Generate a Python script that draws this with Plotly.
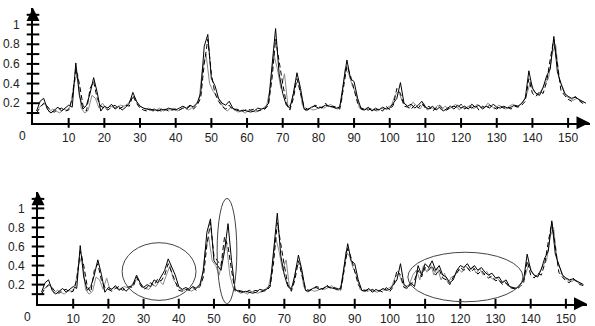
import plotly.graph_objects as go

# ---------------- data ----------------
x_int = list(range(1, 156))                 # 1 .. 155
x_half = [i + 0.5 for i in range(1, 155)]   # 1.5 .. 154.5

top_a = [0.12, 0.22, 0.25, 0.14, 0.10, 0.13, 0.16, 0.12, 0.15, 0.18,
         0.16, 0.61, 0.28, 0.14, 0.18, 0.30, 0.46, 0.31, 0.12, 0.17,
         0.15, 0.19, 0.14, 0.17, 0.13, 0.16, 0.20, 0.31, 0.22, 0.17,
         0.15, 0.14, 0.13, 0.14, 0.12, 0.14, 0.13, 0.15, 0.14, 0.13,
         0.15, 0.17, 0.15, 0.18, 0.16, 0.20, 0.30, 0.78, 0.90, 0.45,
         0.38, 0.25, 0.20, 0.18, 0.22, 0.15, 0.13, 0.12, 0.13, 0.12,
         0.11, 0.12, 0.15, 0.14, 0.15, 0.20, 0.60, 0.96, 0.50, 0.30,
         0.18, 0.15, 0.30, 0.51, 0.35, 0.14, 0.13, 0.16, 0.17, 0.15,
         0.16, 0.18, 0.17, 0.16, 0.15, 0.16, 0.40, 0.64, 0.45, 0.42,
         0.25, 0.14, 0.13, 0.16, 0.12, 0.15, 0.13, 0.16, 0.14, 0.15,
         0.20, 0.25, 0.41, 0.20, 0.17, 0.19, 0.15, 0.18, 0.22, 0.16,
         0.14, 0.17, 0.13, 0.16, 0.12, 0.15, 0.17, 0.14, 0.18, 0.15,
         0.17, 0.14, 0.19, 0.16, 0.18, 0.14, 0.17, 0.15, 0.19, 0.16,
         0.15, 0.17, 0.15, 0.16, 0.18, 0.17, 0.20, 0.25, 0.53, 0.35,
         0.30, 0.28, 0.36, 0.48, 0.55, 0.88, 0.52, 0.40, 0.30, 0.27,
         0.25, 0.26, 0.24, 0.22, 0.20]

top_b = [0.15, 0.18, 0.20, 0.11, 0.14, 0.12, 0.10, 0.14, 0.13, 0.17,
         0.40, 0.50, 0.15, 0.10, 0.13, 0.28, 0.25, 0.15, 0.20, 0.14,
         0.17, 0.16, 0.15, 0.18, 0.17, 0.19, 0.24, 0.26, 0.18, 0.16,
         0.14, 0.15, 0.12, 0.13, 0.15, 0.12, 0.14, 0.13, 0.15, 0.12,
         0.14, 0.16, 0.13, 0.15, 0.19, 0.22, 0.55, 0.70, 0.40, 0.32,
         0.28, 0.22, 0.15, 0.12, 0.16, 0.13, 0.11, 0.12, 0.10, 0.13,
         0.12, 0.11, 0.13, 0.15, 0.18, 0.35, 0.70, 0.55, 0.35, 0.50,
         0.16, 0.20, 0.40, 0.42, 0.18, 0.12, 0.15, 0.13, 0.14, 0.16,
         0.15, 0.17, 0.19, 0.15, 0.14, 0.22, 0.55, 0.50, 0.38, 0.30,
         0.15, 0.13, 0.15, 0.14, 0.13, 0.12, 0.15, 0.14, 0.16, 0.18,
         0.28, 0.32, 0.22, 0.18, 0.15, 0.21, 0.17, 0.14, 0.20, 0.13,
         0.16, 0.14, 0.18, 0.13, 0.17, 0.14, 0.16, 0.19, 0.13, 0.17,
         0.15, 0.18, 0.14, 0.19, 0.16, 0.15, 0.20, 0.17, 0.14, 0.18,
         0.16, 0.14, 0.17, 0.19, 0.16, 0.18, 0.22, 0.30, 0.42, 0.32,
         0.28, 0.33, 0.40, 0.45, 0.70, 0.80, 0.45, 0.35, 0.27, 0.25,
         0.23, 0.25, 0.22, 0.21]

top_c = [0.10, 0.16, 0.20, 0.17, 0.12, 0.11, 0.14, 0.15, 0.12, 0.13,
         0.25, 0.55, 0.40, 0.18, 0.12, 0.35, 0.42, 0.25, 0.17, 0.15,
         0.13, 0.16, 0.18, 0.14, 0.16, 0.18, 0.17, 0.28, 0.20, 0.15,
         0.13, 0.12, 0.14, 0.12, 0.13, 0.12, 0.14, 0.12, 0.13, 0.14,
         0.13, 0.15, 0.14, 0.17, 0.14, 0.18, 0.25, 0.60, 0.85, 0.50,
         0.30, 0.22, 0.17, 0.14, 0.18, 0.13, 0.14, 0.13, 0.12, 0.14,
         0.13, 0.14, 0.12, 0.13, 0.14, 0.18, 0.45, 0.85, 0.60, 0.40,
         0.20, 0.13, 0.25, 0.45, 0.30, 0.16, 0.14, 0.15, 0.18, 0.17,
         0.15, 0.20, 0.16, 0.17, 0.16, 0.14, 0.35, 0.58, 0.48, 0.35,
         0.20, 0.15, 0.14, 0.13, 0.15, 0.13, 0.14, 0.12, 0.17, 0.13,
         0.18, 0.35, 0.30, 0.17, 0.16, 0.14, 0.18, 0.15, 0.20, 0.15,
         0.17, 0.12, 0.15, 0.18, 0.14, 0.13, 0.16, 0.17, 0.15, 0.19,
         0.14, 0.17, 0.15, 0.18, 0.13, 0.17, 0.15, 0.18, 0.16, 0.14,
         0.17, 0.15, 0.16, 0.14, 0.17, 0.16, 0.18, 0.22, 0.45, 0.30,
         0.27, 0.32, 0.30, 0.42, 0.65, 0.85, 0.60, 0.33, 0.28, 0.24,
         0.22, 0.27, 0.23, 0.20, 0.19]

bot_a = [0.12, 0.22, 0.25, 0.14, 0.10, 0.13, 0.16, 0.12, 0.15, 0.18,
         0.16, 0.61, 0.28, 0.14, 0.18, 0.30, 0.46, 0.31, 0.12, 0.17,
         0.15, 0.19, 0.14, 0.17, 0.13, 0.16, 0.20, 0.30, 0.22, 0.17,
         0.20, 0.18, 0.25, 0.22, 0.28, 0.35, 0.47, 0.38, 0.30, 0.18,
         0.15, 0.17, 0.15, 0.18, 0.16, 0.20, 0.35, 0.75, 0.89, 0.45,
         0.40, 0.35, 0.55, 0.84, 0.45, 0.15, 0.13, 0.12, 0.13, 0.12,
         0.11, 0.12, 0.15, 0.14, 0.15, 0.20, 0.60, 0.95, 0.50, 0.30,
         0.18, 0.15, 0.30, 0.51, 0.35, 0.14, 0.13, 0.16, 0.17, 0.15,
         0.16, 0.18, 0.17, 0.16, 0.15, 0.16, 0.40, 0.63, 0.45, 0.42,
         0.25, 0.14, 0.13, 0.16, 0.12, 0.15, 0.13, 0.16, 0.14, 0.15,
         0.20, 0.25, 0.42, 0.20, 0.17, 0.22, 0.18, 0.40, 0.30, 0.42,
         0.38, 0.45, 0.35, 0.40, 0.30, 0.28, 0.22, 0.25, 0.35, 0.40,
         0.38, 0.42, 0.36, 0.40, 0.35, 0.38, 0.33, 0.30, 0.32, 0.27,
         0.28, 0.22, 0.25, 0.18, 0.17, 0.16, 0.20, 0.25, 0.52, 0.35,
         0.30, 0.28, 0.36, 0.48, 0.55, 0.87, 0.52, 0.40, 0.30, 0.27,
         0.25, 0.26, 0.24, 0.22, 0.20]

bot_b = [0.15, 0.18, 0.20, 0.11, 0.14, 0.12, 0.10, 0.14, 0.13, 0.17,
         0.40, 0.50, 0.15, 0.10, 0.13, 0.28, 0.25, 0.15, 0.27, 0.14,
         0.17, 0.16, 0.15, 0.18, 0.17, 0.19, 0.24, 0.26, 0.18, 0.16,
         0.15, 0.20, 0.18, 0.24, 0.20, 0.30, 0.40, 0.25, 0.20, 0.15,
         0.14, 0.16, 0.13, 0.15, 0.19, 0.22, 0.55, 0.70, 0.45, 0.40,
         0.30, 0.50, 0.65, 0.30, 0.16, 0.13, 0.11, 0.12, 0.10, 0.13,
         0.12, 0.11, 0.13, 0.15, 0.18, 0.35, 0.70, 0.55, 0.35, 0.46,
         0.16, 0.20, 0.40, 0.42, 0.18, 0.12, 0.15, 0.13, 0.14, 0.16,
         0.15, 0.17, 0.19, 0.15, 0.14, 0.22, 0.55, 0.50, 0.38, 0.30,
         0.15, 0.13, 0.15, 0.14, 0.13, 0.12, 0.15, 0.14, 0.16, 0.18,
         0.28, 0.32, 0.22, 0.18, 0.20, 0.30, 0.35, 0.25, 0.40, 0.33,
         0.42, 0.30, 0.38, 0.25, 0.32, 0.22, 0.28, 0.30, 0.36, 0.33,
         0.40, 0.35, 0.39, 0.32, 0.37, 0.30, 0.34, 0.28, 0.25, 0.27,
         0.22, 0.24, 0.19, 0.17, 0.16, 0.18, 0.22, 0.30, 0.42, 0.32,
         0.28, 0.33, 0.40, 0.45, 0.70, 0.80, 0.45, 0.35, 0.27, 0.25,
         0.23, 0.25, 0.22, 0.21]

bot_c = [0.10, 0.16, 0.20, 0.17, 0.12, 0.11, 0.14, 0.15, 0.12, 0.13,
         0.25, 0.55, 0.40, 0.18, 0.12, 0.35, 0.42, 0.25, 0.17, 0.15,
         0.13, 0.16, 0.18, 0.14, 0.16, 0.18, 0.17, 0.28, 0.20, 0.15,
         0.17, 0.22, 0.19, 0.26, 0.24, 0.30, 0.42, 0.33, 0.22, 0.14,
         0.13, 0.15, 0.14, 0.17, 0.14, 0.18, 0.28, 0.62, 0.85, 0.50,
         0.45, 0.40, 0.70, 0.60, 0.35, 0.13, 0.14, 0.13, 0.12, 0.14,
         0.13, 0.14, 0.12, 0.13, 0.14, 0.18, 0.45, 0.85, 0.60, 0.40,
         0.20, 0.13, 0.25, 0.45, 0.30, 0.16, 0.14, 0.15, 0.18, 0.17,
         0.15, 0.20, 0.16, 0.17, 0.16, 0.14, 0.35, 0.58, 0.48, 0.35,
         0.20, 0.15, 0.14, 0.13, 0.15, 0.13, 0.14, 0.12, 0.17, 0.13,
         0.18, 0.35, 0.30, 0.17, 0.16, 0.20, 0.25, 0.35, 0.28, 0.38,
         0.35, 0.40, 0.30, 0.36, 0.27, 0.25, 0.20, 0.28, 0.32, 0.38,
         0.35, 0.38, 0.33, 0.37, 0.31, 0.35, 0.30, 0.27, 0.29, 0.24,
         0.25, 0.20, 0.22, 0.17, 0.16, 0.15, 0.18, 0.22, 0.45, 0.30,
         0.27, 0.32, 0.30, 0.42, 0.65, 0.85, 0.60, 0.33, 0.28, 0.24,
         0.22, 0.27, 0.23, 0.20, 0.19]

# highlighted regions in the lower panel: (x0, x1, y0, y1)
ellipses = [(23.9, 44.9, 0.035, 0.64),
            (50.9, 56.5, 0.0, 1.105),
            (105.1, 137.8, 0.02, 0.54)]

x_tick_vals = list(range(10, 160, 10))
y_tick_vals = [0.2, 0.4, 0.6, 0.8, 1.0]
y_tick_text = ["0.2", "0.4", "0.6", "0.8", "1"]
y_tick_marks = [0.1, 0.2, 0.3, 0.4, 0.5, 0.6, 0.7, 0.8, 0.9, 1.0, 1.1]

X_MAX = 156
Y_MAX = 1.17

# ---------------- figure ----------------
W, H = 595, 326
fig = go.Figure()

GRAY = "#8a8a8a"
FONT = dict(family="Liberation Sans, Arial, sans-serif", size=12, color="#222")

panels = [
    ("x", "y", top_a, top_b, top_c),
    ("x2", "y2", bot_a, bot_b, bot_c),
]
for xr, yr, sa, sb, sc in panels:
    fig.add_trace(go.Scatter(x=x_half, y=sb, xaxis=xr, yaxis=yr, mode="lines",
                             line=dict(color=GRAY, width=1), showlegend=False))
    fig.add_trace(go.Scatter(x=x_int, y=sc, xaxis=xr, yaxis=yr, mode="lines",
                             line=dict(color="black", width=1, dash="5px,3px"),
                             showlegend=False))
    fig.add_trace(go.Scatter(x=x_int, y=sa, xaxis=xr, yaxis=yr, mode="lines",
                             line=dict(color="black", width=1), showlegend=False))
    # cross tick marks on the axes
    fig.add_trace(go.Scatter(x=[0] * len(y_tick_marks), y=y_tick_marks, xaxis=xr, yaxis=yr,
                             mode="markers", cliponaxis=False, hoverinfo="skip",
                             marker=dict(symbol="line-ew", size=9,
                                         line=dict(color="black", width=2)),
                             showlegend=False))
    fig.add_trace(go.Scatter(x=x_tick_vals, y=[0] * len(x_tick_vals), xaxis=xr, yaxis=yr,
                             mode="markers", cliponaxis=False, hoverinfo="skip",
                             marker=dict(symbol="line-ns", size=7,
                                         line=dict(color="black", width=2)),
                             showlegend=False))

def xax(domain, anchor):
    return dict(domain=domain, anchor=anchor, range=[0, X_MAX], showgrid=False,
                zeroline=False, showline=True, linecolor="black", linewidth=2,
                tickmode="array", tickvals=x_tick_vals,
                ticktext=[str(v) for v in x_tick_vals], ticks="",
                ticklabelstandoff=3, tickfont=FONT, fixedrange=True)

def yax(domain, anchor):
    return dict(domain=domain, anchor=anchor, range=[0, Y_MAX], showgrid=False,
                zeroline=False, showline=True, linecolor="black", linewidth=2,
                tickmode="array", tickvals=y_tick_vals, ticktext=y_tick_text,
                ticks="", ticklabelstandoff=9, tickfont=FONT, fixedrange=True)

fig.update_layout(
    width=W, height=H, margin=dict(l=0, r=0, t=0, b=0),
    paper_bgcolor="white", plot_bgcolor="white",
    xaxis=xax([33 / W, 589.5 / W], "y"),
    yaxis=yax([(H - 124) / H, (H - 8) / H], "x"),
    xaxis2=xax([38 / W, 587 / W], "y2"),
    yaxis2=yax([(H - 306.5) / H, (H - 194) / H], "x2"),
)

# ellipses
for (ex0, ex1, ey0, ey1) in ellipses:
    fig.add_shape(type="circle", xref="x2", yref="y2", x0=ex0, x1=ex1, y0=ey0, y1=ey1,
                  line=dict(color="#444", width=1))

# arrow heads and the detached "0" origin labels
for xr, yr, zshift in [("x", "y", -11), ("x2", "y2", -11)]:
    fig.add_annotation(x=0, y=Y_MAX, xref=xr, yref=yr, ax=0, ay=10, text="",
                       showarrow=True, arrowhead=2, arrowsize=1.3, arrowwidth=2,
                       arrowcolor="black")
    fig.add_annotation(x=X_MAX, y=0, xref=xr, yref=yr, ax=-10, ay=0, text="",
                       showarrow=True, arrowhead=2, arrowsize=1.3, arrowwidth=2,
                       arrowcolor="black")
    fig.add_annotation(x=0, y=0, xref=xr, yref=yr, text="0", showarrow=False,
                       xshift=zshift, yshift=-4, yanchor="top", font=FONT)

fig.write_html("out.html")
